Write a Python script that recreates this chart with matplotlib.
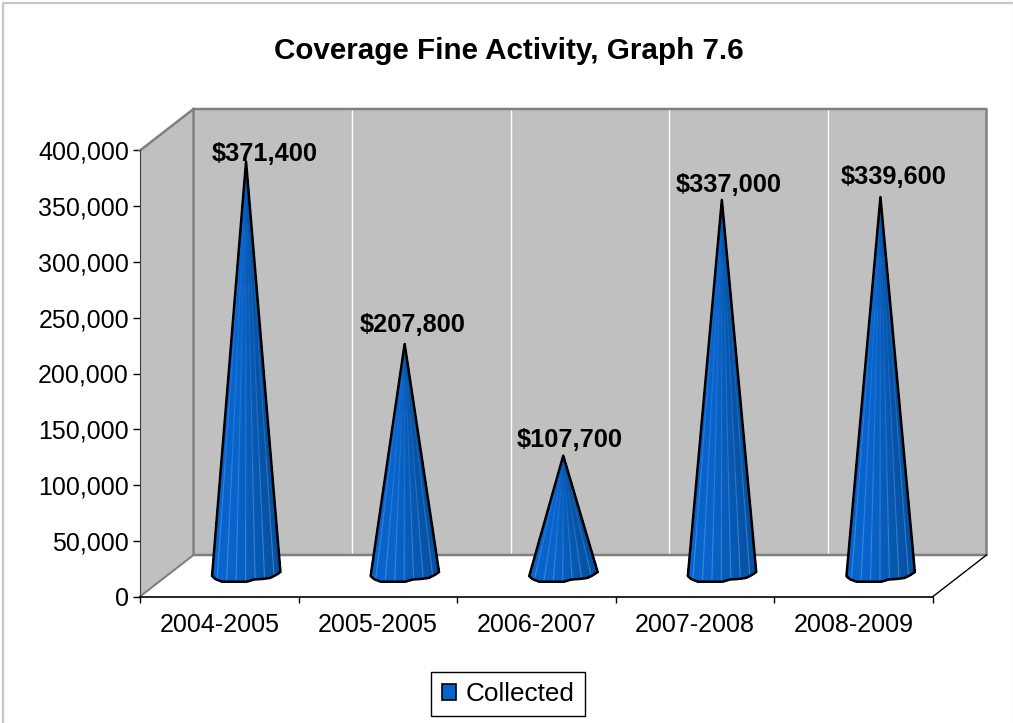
import matplotlib
matplotlib.use('Agg')
import matplotlib.pyplot as plt
from matplotlib.patches import Patch, Polygon, Rectangle
from matplotlib.lines import Line2D
import numpy as np

plt.rcParams['font.family'] = ['Liberation Sans', 'DejaVu Sans']

seasons = ['2004-2005', '2005-2005', '2006-2007', '2007-2008', '2008-2009']
collected = [371400, 207800, 107700, 337000, 339600]
labels = ['$371,400', '$207,800', '$107,700', '$337,000', '$339,600']
y_ticks = [0, 50000, 100000, 150000, 200000, 250000, 300000, 350000, 400000]

W, H = 1013, 723
fig = plt.figure(figsize=(W / 100, H / 100), dpi=100)
fig.patch.set_facecolor('white')

# frame of the screenshot: only top and left really show
fig.add_artist(Line2D([3 / W, 3 / W, 1], [0, 1 - 3 / H, 1 - 3 / H], transform=fig.transFigure,
                      color='#c8c8c8', lw=1.6))
fig.add_artist(Line2D([1 - 0.5 / W, 1 - 0.5 / W], [0, 1 - 3 / H], transform=fig.transFigure,
                      color='#e8e8e8', lw=1))

# front plane of the fake 3d box
left, right, top, bottom = 140, 933, 150.5, 596.5
ax = fig.add_axes([left / W, 1 - bottom / H, (right - left) / W, (bottom - top) / H])
ax.set_xlim(0, len(seasons))
ax.set_ylim(0, 400000)
ax.patch.set_visible(False)

# pixel sizes in data units
px = len(seasons) / (right - left)
py = 400000 / (bottom - top)
dx, dy = 53.5 * px, 41.5 * py
n = len(seasons)
ymax = 400000

# walls
ax.add_patch(Polygon([(0, 0), (dx, dy), (dx, ymax + dy), (0, ymax)], closed=True,
                     facecolor='#c0c0c0', edgecolor='none', clip_on=False, zorder=1))
ax.add_patch(Rectangle((dx, dy), n, ymax, facecolor='#c0c0c0', edgecolor='none',
                       clip_on=False, zorder=1))
for i in range(1, n):
    ax.plot([i + dx, i + dx], [dy, ymax + dy], color='white', lw=1, clip_on=False, zorder=2)
ax.plot([0, dx, dx + n, dx + n, dx, dx], [ymax, ymax + dy, ymax + dy, dy, dy, ymax + dy],
        color='#808080', lw=1.8, clip_on=False, zorder=3)
ax.plot([0, dx], [0, dy], color='#808080', lw=1.5, clip_on=False, zorder=3)
ax.plot([n, n + dx], [0, dy], color='black', lw=1, clip_on=False, zorder=3)

# base outline of a cone, pixel offsets from its centre (hand drawn look)
base_x = np.array([-34, -31, -24, -12, 1, 8, 16, 24, 30, 34.4])
base_y = np.array([0, 3, 5.7, 5.7, 5.7, 3.5, 3, 2, -1, -4])
base_c = 20.5 * py
strips = 34
left_col = np.array([0x08, 0x64, 0xcc]) / 255
right_col = np.array([0x05, 0x50, 0xa0]) / 255

for i, value in enumerate(collected):
    cx = i + 0.5 + dx / 2
    xs = np.linspace(-34, 34.4, strips + 1)
    ys = np.interp(xs, base_x, base_y)
    tip_y = value + dy / 2
    for j in range(strips):
        t = j / (strips - 1)
        col = left_col + (right_col - left_col) * max(0, (t - 0.3) / 0.7)
        ax.add_patch(Polygon([(cx, tip_y),
                              (cx + xs[j] * px, base_c - ys[j] * py),
                              (cx + xs[j + 1] * px, base_c - ys[j + 1] * py)],
                             closed=True, facecolor=col, edgecolor=col, lw=0.6,
                             antialiased=False, clip_on=False, zorder=4))
    # thin light facet lines, fading out towards the tip
    for a in np.arange(-29, 32, 9.5):
        b = np.interp(a, base_x, base_y)
        end_x, end_y = cx + a * px, base_c - b * py
        fr = np.linspace(0.15, 1, 7)
        for k in range(6):
            ax.plot([cx + (end_x - cx) * fr[k], cx + (end_x - cx) * fr[k + 1]],
                    [tip_y + (end_y - tip_y) * fr[k], tip_y + (end_y - tip_y) * fr[k + 1]],
                    color='#7fb2ea', alpha=0.08 + 0.07 * k, lw=0.8, solid_capstyle='butt',
                    clip_on=False, zorder=4.5)
    outline = [(cx + a * px, base_c - b * py) for a, b in zip(xs, ys)]
    ax.add_patch(Polygon(outline + [(cx, tip_y)], closed=True, fill=False,
                         edgecolor='black', lw=1.8, joinstyle='round', clip_on=False, zorder=5))

# data labels sit by hand around the tips
label_dx = [19, 8, 6, 7, 13]
label_dy = [9, 20, 17, 16, 21]
for i, value in enumerate(collected):
    ax.annotate(labels[i], xy=(i + 0.5 + dx / 2, value + dy / 2),
                xytext=(label_dx[i] * 0.72, label_dy[i] * 0.72 - 1), textcoords='offset points',
                ha='center', va='center', fontsize=18.3, fontweight='bold', color='black',
                annotation_clip=False, zorder=6)

for s in ['top', 'right']:
    ax.spines[s].set_visible(False)
ax.spines['left'].set_color('#404040')
ax.spines['left'].set_zorder(3)
ax.spines['bottom'].set_color('black')
ax.spines['bottom'].set_linewidth(1.2)
ax.spines['bottom'].set_zorder(3)

ax.set_yticks(y_ticks)
ax.set_yticklabels([f'{v:,}' for v in y_ticks], fontsize=18)
ax.set_xticks(range(n + 1))
ax.set_xticklabels([])
ax.set_xticks(np.arange(n) + 0.5, seasons, minor=True, fontsize=18)
ax.tick_params(axis='x', which='major', length=4.5, width=1, direction='out')
ax.tick_params(axis='x', which='minor', length=0, pad=12)
ax.tick_params(axis='y', length=5, width=1, pad=3)

fig.text(509 / W, 1 - 51 / H, 'Coverage Fine Activity, Graph 7.6', ha='center', va='center',
         fontsize=21.3, fontweight='bold')

handle = Patch(facecolor='#0664cf', edgecolor='black', lw=1.2, label='Collected')
fig.legend(handles=[handle], loc='center', bbox_to_anchor=(508 / W, 1 - 694 / H), fontsize=18.8,
           frameon=True, fancybox=False, framealpha=1, edgecolor='black', handlelength=0.55,
           handleheight=0.55, handletextpad=0.35, borderpad=0.4, borderaxespad=0)

fig.savefig('out.png', dpi=100)
